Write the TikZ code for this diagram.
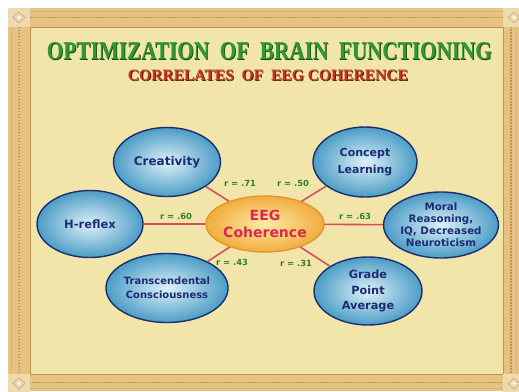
\documentclass[tikz,border=0pt]{standalone}
\usepackage{fontspec}
\usepackage{graphicx}
\setsansfont{DejaVu Sans}
\newfontfamily\titlefont{Liberation Serif}
\usetikzlibrary{shapes.geometric}

\definecolor{paper}{HTML}{F1E5AA}
\definecolor{bandgold}{HTML}{E6C283}
\definecolor{bandline}{HTML}{C2924A}
\definecolor{cornerbox}{HTML}{EEDAB0}
\definecolor{titlegreen}{HTML}{2F9A2C}
\definecolor{titleshade}{HTML}{17461A}
\definecolor{subred}{HTML}{C0361F}
\definecolor{subshade}{HTML}{5E1A10}
\definecolor{bluein}{HTML}{DDF2F8}
\definecolor{blueout}{HTML}{4C9CC6}
\definecolor{navyline}{HTML}{1B2F6C}
\definecolor{navytext}{HTML}{1E2B74}
\definecolor{hubin}{HTML}{FCEBA6}
\definecolor{hubout}{HTML}{F2AC3E}
\definecolor{hubline}{HTML}{E39328}
\definecolor{hubtext}{HTML}{D8284E}
\definecolor{linkred}{HTML}{D4505F}
\definecolor{coefgreen}{HTML}{2E7F2A}

% text with a dark copy behind it
\newcommand{\shadowed}[3]{\makebox[0pt][l]{\hspace{0.9pt}\raisebox{-0.9pt}{\color{#2}#1}}{\color{#3}#1}}
\newcommand{\sz}[2]{\fontsize{#1}{#2}\selectfont}

\begin{document}
\begin{tikzpicture}[x = 1pt, y = -1pt,
  topic/.style = {ellipse, draw = navyline, line width = 1.4pt, inner color = bluein, outer color = blueout, inner sep = 0pt, text = navytext, align = center},
  hub/.style = {ellipse, draw = hubline, line width = 1.3pt, inner color = hubin, outer color = hubout, inner sep = 0pt, text = hubtext, align = center},
  link/.style = {linkred, line width = 1.6pt},
  coef/.style = {font = \sffamily\bfseries\sz{8.4}{10}, text = coefgreen, inner sep = 0pt}]
\useasboundingbox (0, 0) rectangle (519, 391);
% frame
\fill[white] (0, 0) rectangle (519, 391);
\fill[bandgold] (8, 8) rectangle (519, 391);
\draw[bandline, line width = 1.4pt, dash pattern = on 1.6pt off 1.4pt] (19, 17.5) rectangle (511, 382.5);
\draw[bandline!70, line width = 0.6pt] (11, 11) rectangle (516, 388);
\fill[paper] (30, 27) rectangle (503, 374);
\draw[bandline, line width = 0.8pt] (30, 27) rectangle (503, 374);
\foreach \cx/\cy in {8/8, 503/8, 8/374, 503/374} {
  \fill[cornerbox] (\cx, \cy) rectangle ++(22, 19);
  \draw[bandline!80, line width = 0.6pt] (\cx + 11, \cy + 4) -- (\cx + 17, \cy + 9.5) -- (\cx + 11, \cy + 15) -- (\cx + 5, \cy + 9.5) -- cycle;
  \fill[white!80!cornerbox] (\cx + 11, \cy + 9.5) circle [radius = 1.8];
}

% titles
\node[inner sep = 0pt] (title) at (269.5, 51.5) {\resizebox{445pt}{17pt}{\titlefont\bfseries\sz{26}{28}\shadowed{OPTIMIZATION\ \ OF\ \ BRAIN\ \ FUNCTIONING}{titleshade}{titlegreen}}};
\node[inner sep = 0pt] (subtitle) at (268, 75.5) {\resizebox{280pt}{10.5pt}{\titlefont\bfseries\sz{15}{17}\shadowed{CORRELATES\ \ OF\ \ EEG\ COHERENCE}{subshade}{subred}}};

% ellipses
\node[hub, minimum width = 100pt, minimum height = 56pt, font = \sffamily\bfseries\sz{14}{16.5}] (eeg) at (265, 224) {EEG\\Coherence};
\node[topic, minimum width = 107pt, minimum height = 69pt, font = \sffamily\bfseries\sz{12}{14}] (crea) at (167, 162) {Creativity};
\node[topic, minimum width = 106pt, minimum height = 67pt, font = \sffamily\bfseries\sz{11.5}{14}] (hrefl) at (90, 224) {H-reflex};
\node[topic, minimum width = 107pt, minimum height = 69pt, font = \sffamily\bfseries\sz{10}{13.5}] (trans) at (167, 288) {Transcendental\\Consciousness};
\node[topic, minimum width = 104pt, minimum height = 70pt, font = \sffamily\bfseries\sz{11}{16.5}] (conc) at (365, 162) {Concept\\Learning};
\node[topic, minimum width = 105pt, minimum height = 66pt, font = \sffamily\bfseries\sz{10.3}{12}] (moral) at (441, 225) {Moral\\Reasoning,\\IQ, Decreased\\Neuroticism};
\node[topic, minimum width = 108pt, minimum height = 68pt, font = \sffamily\bfseries\sz{11.3}{15.5}] (gpa) at (368, 291) {Grade\\Point\\Average};

% connectors
\draw[link] (eeg) -- (crea);
\draw[link] (eeg) -- (hrefl);
\draw[link] (eeg) -- (trans);
\draw[link] (eeg) -- (conc);
\draw[link] (eeg) -- (moral);
\draw[link] (eeg) -- (gpa);

% correlations
\node[coef] (r71) at (240, 183) {r = .71};
\node[coef] (r50) at (293, 183) {r = .50};
\node[coef] (r60) at (176, 216) {r = .60};
\node[coef] (r63) at (355, 216) {r = .63};
\node[coef] (r43) at (232, 262) {r = .43};
\node[coef] (r31) at (296, 263) {r = .31};
\end{tikzpicture}
\end{document}
